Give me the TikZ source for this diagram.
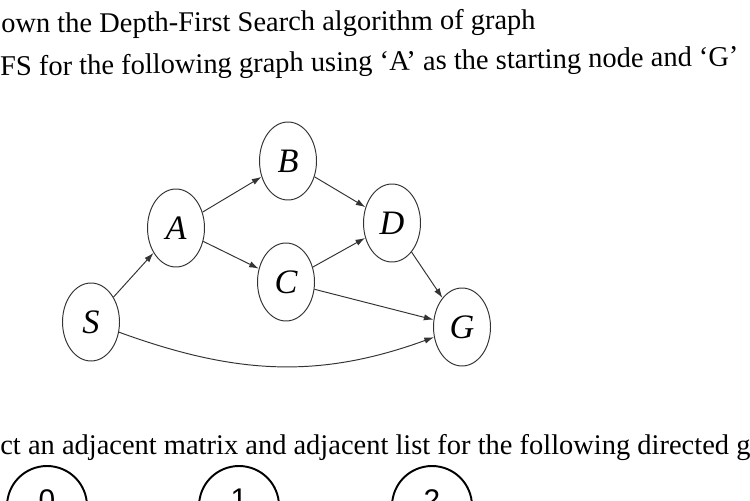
\documentclass[tikz,border=0pt]{standalone}
\usepackage{fontspec}
\setmainfont{Liberation Serif}
\newfontfamily\digitfont{Liberation Sans}
\usepackage{tikz}
\usetikzlibrary{arrows.meta,shapes.geometric}
\tikzset{
  vtx/.style={ellipse, draw=black!80, line width=0.55pt, minimum width=1.14cm, minimum height=1.56cm, inner sep=0pt, font=\fontsize{19.5}{19.5}\selectfont\itshape},
  edgeArrow/.style={-{Latex[length=5.5pt,width=3.6pt]}, line width=0.55pt, draw=black!80},
  qline/.style={anchor=base west, inner sep=0pt, font=\fontsize{16.2}{19}\selectfont},
  numvtx/.style={circle, draw, line width=1.1pt, minimum size=1.6cm, inner sep=0pt},
  numlabel/.style={anchor=north, inner sep=0pt, font=\digitfont\fontsize{17}{17}\selectfont}
}

\begin{document}
\begin{tikzpicture}[x=0.02cm, y=-0.02cm]
  \useasboundingbox (0,0) rectangle (750,500);
  \clip (0,0) rectangle (750,500);
  % question text (page is scanned a little askew)
  \node[qline, rotate=0.4] (q1) at (1,33) {own the Depth-First Search algorithm of graph};
  \node[qline, rotate=0.8] (q2) at (0,76) {FS for the following graph using ‘A’ as the starting node and ‘G’};
  \node[qline] (q3) at (0,454) {ct an adjacent matrix and adjacent list for the following directed g};
  % graph for the DFS question
  \node[vtx] (S) at (91,322) {S};
  \node[vtx] (A) at (176,228) {A};
  \node[vtx] (B) at (288,161) {B};
  \node[vtx] (C) at (286,282) {C};
  \node[vtx] (D) at (392,223) {D};
  \node[vtx] (G) at (462,327) {G};
  \draw[edgeArrow] (S) -- (A);
  \draw[edgeArrow] (A) -- (B);
  \draw[edgeArrow] (A) -- (C);
  \draw[edgeArrow] (B) -- (D);
  \draw[edgeArrow] (C) -- (D);
  \draw[edgeArrow] (D) -- (G);
  \draw[edgeArrow] (C) -- (G);
  \draw[edgeArrow] (S) to[out=-20, in=200] (G);
  % vertices of the next graph (cut off by the page edge)
  \foreach \k/\xx in {0/47,1/239,2/432}{
    \node[numvtx] (v\k) at (\xx,506) {};
    \node[numlabel] (n\k) at (\xx,489) {\k};
  }
\end{tikzpicture}
\end{document}
